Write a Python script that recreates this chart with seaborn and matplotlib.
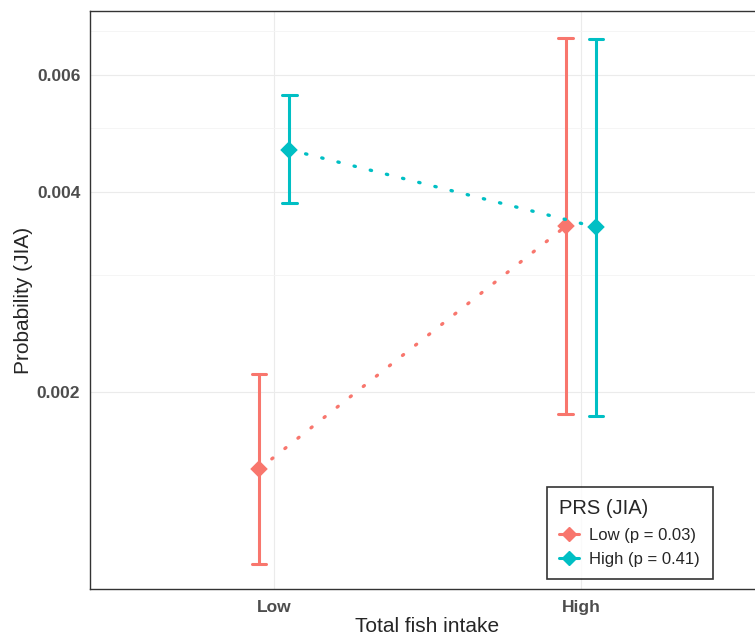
import numpy as np
import pandas as pd
import seaborn as sns
import matplotlib.pyplot as plt
from matplotlib.lines import Line2D

# Categories
fish_levels = ["Low", "High"]
prs_levels = ["Low", "High"]
p_values = ["0.03", "0.41"]

# Estimated probability and 95% CI, per fish intake level (Low, High)
prob_low_prs = [0.00153, 0.00355]
lower_low_prs = [0.00110, 0.00185]
upper_low_prs = [0.00213, 0.00681]

prob_high_prs = [0.00463, 0.00354]
lower_high_prs = [0.00385, 0.00184]
upper_high_prs = [0.00560, 0.00679]

colors = ["#F8766D", "#00BFC4"]

# long table: lower / estimate / upper rows per group, aggregated by seaborn
prs_labels = [f"{p} (p = {v})" for p, v in zip(prs_levels, p_values)]
rows = []
for lab, est, lo, hi in [(prs_labels[0], prob_low_prs, lower_low_prs, upper_low_prs),
                         (prs_labels[1], prob_high_prs, lower_high_prs, upper_high_prs)]:
    for i, fish in enumerate(fish_levels):
        for v in (lo[i], est[i], hi[i]):
            rows.append({"fish": fish, "PRS (JIA)": lab, "prob": v})
df = pd.DataFrame(rows)

sns.set_theme(style="white")
plt.rcParams['font.family'] = ['Liberation Sans', 'DejaVu Sans']

fig = plt.figure(figsize=(7.55, 6.36), dpi=100)
ax = fig.add_axes([90 / 755, 1 - 589 / 636, 675 / 755, 578 / 636])
ax.set_yscale("log")

sns.pointplot(data=df, x="fish", y="prob", hue="PRS (JIA)", order=fish_levels,
              hue_order=prs_labels, palette=colors, estimator="median",
              errorbar=lambda v: (v.min(), v.max()), dodge=0.1, markers="D",
              linestyles=(0, (0.4, 4.6)), capsize=0.047, err_kws={"linewidth": 2.2},
              markersize=7, linewidth=2.4, legend=False, ax=ax)

# round dots for the dotted connecting lines
for ln in ax.lines:
    if ln.get_marker() == "D":
        ln.set_dash_capstyle("round")

# axes: log y with ggplot-like breaks
ax.set_xlim(-0.6, 1.6)
ax.set_ylim(0.00101, 0.00749)
ax.set_yticks([0.002, 0.004, 0.006])
ax.set_yticklabels(["0.002", "0.004", "0.006"])
ax.set_yticks([0.003, 0.005, 0.007], minor=True)
ax.yaxis.set_minor_formatter(plt.NullFormatter())
ax.grid(True, which="major", color="#EBEBEB", linewidth=0.8)
ax.grid(True, which="minor", axis="y", color="#F4F4F4", linewidth=0.6)
ax.tick_params(axis="both", which="major", length=4, width=0.8, color="#333333",
               labelsize=12.5, labelcolor="#4D4D4D", pad=3)
ax.tick_params(axis="y", which="minor", length=0)
ax.tick_params(axis="x", pad=4)
for lab in ax.get_xticklabels() + ax.get_yticklabels():
    lab.set_fontweight("bold")
for s in ax.spines.values():
    s.set_color("#333333")
    s.set_linewidth(1.0)

ax.set_xlabel("Total fish intake", fontsize=15, labelpad=1)
ax.set_ylabel("Probability (JIA)", fontsize=15, labelpad=3)

handles = [Line2D([], [], color=c, marker="D", markersize=7, linewidth=2.2) for c in colors]
leg = ax.legend(handles, prs_labels, title="PRS (JIA)", loc="lower left",
                bbox_to_anchor=(0.677, 0.017), borderaxespad=0, fontsize=12,
                title_fontsize=14.5, frameon=True, fancybox=False, edgecolor="black",
                handlelength=1.2, borderpad=0.75, labelspacing=0.55, handletextpad=0.6)
leg.get_frame().set_linewidth(1.2)
leg._legend_box.align = "left"

fig.savefig("out.png", dpi=100)
